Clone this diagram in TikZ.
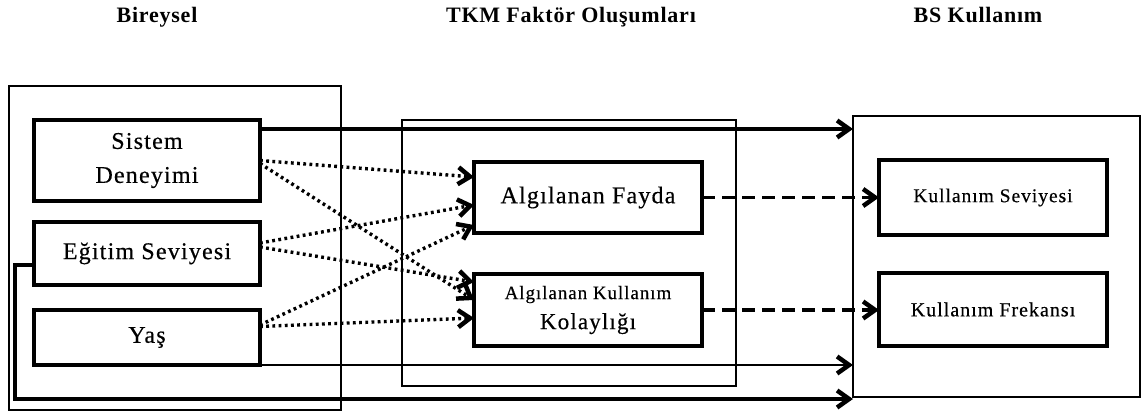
\documentclass[tikz,border=0pt]{standalone}
\usepackage{fontspec}
\setmainfont{Liberation Serif}
\newfontfamily\boxfont[LetterSpace=5,FakeBold=0.4]{Liberation Serif}
\newfontfamily\headfont[LetterSpace=3.5]{Liberation Serif}
\usetikzlibrary{arrows.meta}
\begin{document}
\begin{tikzpicture}[x=1pt,y=-1pt,
  every node/.style={inner sep=0pt, outer sep=0pt},
  heading/.style={font=\headfont\bfseries\fontsize{22}{26}\selectfont, anchor=base},
  item/.style={draw, line width=4.5pt, fill=white, align=center,
    font=\boxfont\fontsize{24}{34}\selectfont},
  group/.style={draw, line width=2.2pt},
  arr/.style={-{Straight Barb[length=12pt,width=17pt,line width=4.5pt]}},
  solidlink/.style={arr, line width=3.4pt},
  dotlink/.style={arr, line width=3.4pt, dash pattern=on 2.8pt off 3.4pt},
  dashlink/.style={arr, line width=3.8pt, dash pattern=on 13pt off 7pt}]

\useasboundingbox (0,0) rectangle (1144,415);

% column headings
\node[heading] (h1) at (157,23) {Bireysel};
\node[heading] (h2) at (571,23) {TKM Faktör Oluşumları};
\node[heading] (h3) at (978,23) {BS Kullanım};

% group frames
\node[group, minimum width=332pt, minimum height=324pt] (left) at (175,248) {};
\node[group, line width=2.8pt, minimum width=334pt, minimum height=266pt] (mid) at (569,253) {};
\node[group, minimum width=287pt, minimum height=281pt] (right) at (996.5,256.5) {};

% factor boxes
\node[item, minimum width=226pt, minimum height=81pt] (sd) at (147,160.5) {Sistem\\Deneyimi};
\node[item, minimum width=226pt, minimum height=63pt] (es) at (147,253.5) {Eğitim Seviyesi};
\node[item, minimum width=226pt, minimum height=55pt] (ya) at (147,337.5) {Yaş};
\node[item, minimum width=228pt, minimum height=71pt] (af) at (588,197.5) {Algılanan Fayda};
\node[item, minimum width=228pt, minimum height=72pt, font=\boxfont\fontsize{23}{30}\selectfont] (akk) at (588,310)
  {{\fontsize{19}{30}\selectfont Algılanan Kullanım}\\Kolaylığı};
\node[item, minimum width=228pt, minimum height=75pt, font=\boxfont\fontsize{19.5}{24}\selectfont] (ks) at (993,197.5) {Kullanım Seviyesi};
\node[item, minimum width=228pt, minimum height=73pt, font=\boxfont\fontsize{20}{24}\selectfont] (kf) at (993,309.5) {Kullanım Frekansı};

% anchor points on the box sides
\coordinate (sdtop) at ([yshift=31.5pt]sd.east);
\coordinate (sd1) at (sd.east);
\coordinate (sd2) at ([yshift=-3pt]sd.east);
\coordinate (es1) at ([yshift=10.5pt]es.east);
\coordinate (es2) at ([yshift=6.5pt]es.east);
\coordinate (ya1) at ([yshift=12.5pt]ya.east);
\coordinate (ya2) at ([yshift=11pt]ya.east);
\coordinate (af1) at ([yshift=20.5pt]af.west);
\coordinate (af2) at ([yshift=-7.5pt]af.west);
\coordinate (af3) at ([yshift=-27.5pt]af.west);
\coordinate (akk1) at ([yshift=28pt]akk.west);
\coordinate (akk2) at ([yshift=10pt]akk.west);
\coordinate (akk3) at ([yshift=-8pt]akk.west);
\coordinate (esl) at ([yshift=-11.5pt]es.west);
\coordinate (corner) at (15,399);

% direct links to usage
\draw[solidlink] (sdtop) -- (sdtop -| right.west);
\draw[solidlink, line width=2.8pt] (ya.south east) -- (ya.south east -| right.west);
\draw[solidlink, line cap=butt] (esl) -| (corner) -- (corner -| right.west);

% individual factors to perceptions
\draw[dotlink] (sd1) -- (af1);
\draw[dotlink] (sd2) -- (akk2);
\draw[dotlink] (es1) -- (af2);
\draw[dotlink] (es2) -- (akk1);
\draw[dotlink] (ya1) -- (af3);
\draw[dotlink] (ya2) -- (akk3);

% perceptions to usage
\draw[dashlink] (af.east) -- (ks.west);
\draw[dashlink] (akk.east) -- (akk.east -| kf.west);
\end{tikzpicture}
\end{document}
